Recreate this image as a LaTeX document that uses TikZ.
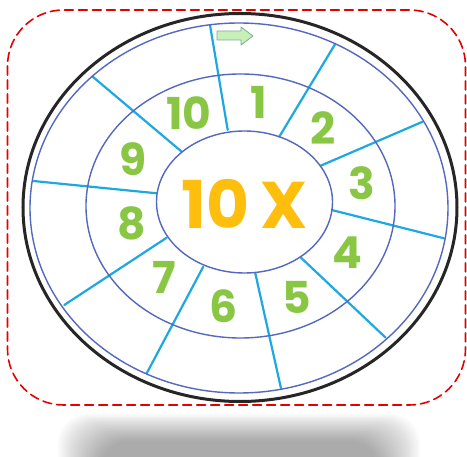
\documentclass[tikz,border=0pt]{standalone}
\usepackage{fontspec}
\setmainfont{Poppins}
\usepackage{xcolor}
\definecolor{ringblue}{RGB}{84,104,190}
\definecolor{spokeblue}{RGB}{30,168,226}
\definecolor{numgreen}{RGB}{136,198,68}
\definecolor{tenorange}{RGB}{254,190,14}
\definecolor{arrowgreen}{RGB}{198,240,184}
\definecolor{arrowedge}{RGB}{122,172,152}

\begin{document}
\begin{tikzpicture}[x=1pt,y=-1pt,line cap=round,
  ring/.style={ringblue,line width=1.4pt},
  spoke/.style={spokeblue,line width=2.2pt},
  num/.style={numgreen,font=\fontsize{44}{44}\selectfont\bfseries}]
\useasboundingbox (0,0) rectangle (467,457);
% shadow under the card
\foreach \i in {0,...,19}
  \fill[black,opacity=0.021,rounded corners=30pt] (58+\i*2.2,414+\i*1.4) rectangle (420-\i*2.2,490);
\fill[white] (7.5,10) rectangle (465.5,405);
\draw[red!90!black,line width=1.6pt,dash pattern=on 9pt off 5pt,rounded corners=56pt] (7.5,10) rectangle (465.5,405);
% spokes
\foreach \xa/\ya/\xb/\yb in {227.7/130/210/25, 279.3/136.7/335/44.3, 320.7/165.7/422.7/121.7,
    331.7/210/444/238.3, 301/257.7/385.7/337.7, 255.3/273.3/281/388.3, 203.3/266.7/146.7/373.3,
    166.7/237.7/64.3/305, 156.7/193.3/33.3/181, 181.7/151.7/92.7/76.7}
  \draw[spoke] (\xa,\ya) -- (\xb,\yb);
\draw[black!85,line width=3pt] (240,207.5) ellipse [x radius=217,y radius=194];
\draw[ring] (239,208) ellipse [x radius=209,y radius=185];
\draw[ring] (240.5,206) ellipse [x radius=154.5,y radius=132];
\draw[ring] (244.5,202) ellipse [x radius=88,y radius=71];
\filldraw[fill=arrowgreen,draw=arrowedge,line width=0.8pt,line join=round]
  (217,31) -- (241,31) -- (241,27) -- (253,36) -- (241,45) -- (241,40) -- (217,40) -- cycle;
\foreach \n/\x/\y in {1/259/102, 2/323/128, 3/362/183, 4/347/253, 5/297/297,
    6/224/306, 7/164/277, 8/132/223, 9/133/159, 10/189/113}
  \node[num] (n\n) at (\x,\y) {\n};
\node[tenorange,font=\fontsize{66}{66}\selectfont\bfseries] (ten) at (244.5,203.5) {10\,X};
\end{tikzpicture}
\end{document}
